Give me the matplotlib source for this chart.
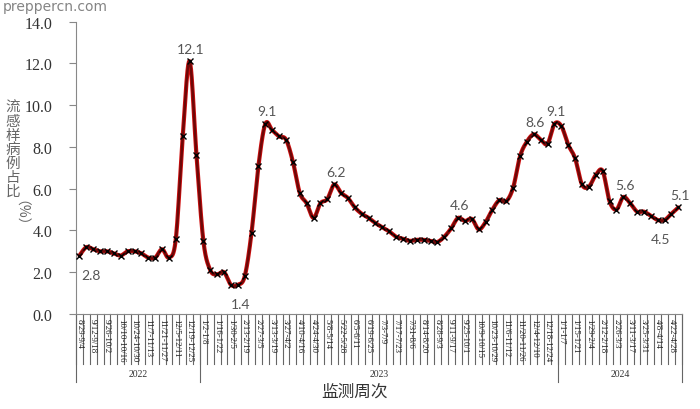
import numpy as np
import matplotlib
matplotlib.use("Agg")
import matplotlib.pyplot as plt
import matplotlib.transforms as mtransforms

# ---- data ----
values_2022 = [2.8, 3.2, 3.1, 3.0, 3.0, 2.9, 2.8, 3.0, 3.0, 2.9, 2.7, 2.7, 3.1, 2.7, 3.6, 8.5, 12.1, 7.6]
values_2023 = [3.5, 2.1, 1.9, 2.0, 1.4, 1.4, 1.8, 3.9, 7.1, 9.1, 8.8, 8.5, 8.35, 7.3, 5.8, 5.3, 4.6, 5.3,
               5.5, 6.2, 5.8, 5.55, 5.1, 4.8, 4.6, 4.35, 4.15, 3.95, 3.7, 3.6, 3.5, 3.55, 3.55, 3.5, 3.45,
               3.7, 4.1, 4.6, 4.45, 4.55, 4.05, 4.4, 5.0, 5.45, 5.4, 6.05, 7.55, 8.25, 8.6, 8.35, 8.15, 9.1]
values_2024 = [9.0, 8.1, 7.45, 6.2, 6.1, 6.65, 6.85, 5.4, 5.0, 5.6, 5.3, 4.9, 4.9, 4.7, 4.5, 4.5, 4.8, 5.1]
years = ["2022", "2023", "2024"]
week_labels = ["8/29-9/4", "9/12-9/18", "9/26-10/2", "10/10-10/16", "10/24-10/30", "11/7-11/13",
               "11/21-11/27", "12/5-12/11", "12/19-12/25", "1/2-1/8", "1/16-1/22", "1/30-2/5",
               "2/13-2/19", "2/27-3/5", "3/13-3/19", "3/27-4/2", "4/10-4/16", "4/24-4/30",
               "5/8-5/14", "5/22-5/28", "6/5-6/11", "6/19-6/25", "7/3-7/9", "7/17-7/23",
               "7/31-8/6", "8/14-8/20", "8/28-9/3", "9/11-9/17", "9/25-10/1", "10/9-10/15",
               "10/23-10/29", "11/6-11/12", "11/20-11/26", "12/4-12/10", "12/18-12/24",
               "1/1-1/7", "1/15-1/21", "1/29-2/4", "2/12-2/18", "2/26-3/3", "3/11-3/17",
               "3/25-3/31", "4/8-4/14", "4/22-4/28"]
labelled_points = [0, 16, 23, 27, 37, 55, 66, 69, 79, 84, 87]
label_below = [0, 23, 84]
yticks = [0, 2, 4, 6, 8, 10, 12, 14]

values = np.array(values_2022 + values_2023 + values_2024)
n = len(values)
x = np.arange(n)
group_sizes = [len(values_2022), len(values_2023), len(values_2024)]

# smooth curve (Excel-like Bezier smoothing) through the data points
def smooth(xs, ys, steps=20):
    px = np.concatenate([[xs[0]], xs, [xs[-1]]])
    py = np.concatenate([[ys[0]], ys, [ys[-1]]])
    out_x, out_y = [], []
    t = np.linspace(0, 1, steps, endpoint=False)
    for i in range(1, len(px) - 2):
        p0 = np.array([px[i], py[i]])
        p3 = np.array([px[i + 1], py[i + 1]])
        c1 = p0 + (np.array([px[i + 1], py[i + 1]]) - np.array([px[i - 1], py[i - 1]])) / 6
        c2 = p3 - (np.array([px[i + 2], py[i + 2]]) - np.array([px[i], py[i]])) / 6
        b = ((1 - t) ** 3)[:, None] * p0 + (3 * (1 - t) ** 2 * t)[:, None] * c1 + \
            (3 * (1 - t) * t ** 2)[:, None] * c2 + (t ** 3)[:, None] * p3
        out_x.extend(b[:, 0]); out_y.extend(b[:, 1])
    out_x.append(xs[-1]); out_y.append(ys[-1])
    return np.array(out_x), np.array(out_y)

sx, sy = smooth(x.astype(float), values)

fig = plt.figure(figsize=(7, 4.1), dpi=100)
ax = fig.add_axes([0.1086, 0.2317, 0.974 - 0.1086, 0.945 - 0.2317])

ax.plot(sx, sy, color="#D01010", lw=3.0, solid_capstyle="round", zorder=2)
ax.plot(sx, sy, color="#6E0808", lw=1.8, solid_capstyle="round", zorder=3)
ax.plot(x, values, ls="none", marker="x", color="black", ms=4, mew=1.0, zorder=4)

ax.set_xlim(-0.5, n - 0.5)
ax.set_ylim(0, 14)
ax.set_yticks(yticks)
ax.set_yticklabels([f"{v:.1f}" for v in yticks], family="Liberation Serif", fontsize=11.5, color="#333333")
ax.tick_params(axis="y", direction="out", length=5, color="#888888", pad=12)

for s in ["top", "right"]:
    ax.spines[s].set_visible(False)
ax.spines["left"].set_color("#888888")
ax.spines["bottom"].set_color("#888888")

ax.set_xticks(range(0, n, 2)[:len(week_labels)])
ax.set_xticklabels(week_labels, rotation=-90, fontsize=6.3, family="Liberation Serif", color="#222222")
ax.tick_params(axis="x", length=0, pad=3)
for lab in ax.get_xticklabels():
    lab.set_verticalalignment("top")

trans = mtransforms.blended_transform_factory(ax.transData, ax.transAxes)
bounds = np.cumsum([0] + group_sizes) - 0.5
for b in np.arange(-0.5, n, 1.0):
    ax.plot([b, b], [0, -0.17], transform=trans, color="#666666", lw=0.8, clip_on=False, zorder=1)
for b in bounds:
    ax.plot([b, b], [0, -0.232], transform=trans, color="#666666", lw=0.8, clip_on=False, zorder=1)
for i, yr in enumerate(years):
    cx = (bounds[i] + bounds[i + 1]) / 2
    ax.text(cx, -0.205, yr, transform=trans, ha="center", va="center", fontsize=7,
            family="Liberation Serif", color="#333333")

for i in labelled_points:
    if i == 0:
        off = (8, -14)
    elif i in label_below:
        off = (2, -14)
    else:
        off = (1, 9)
    ax.annotate(f"{values[i]:.1f}", (x[i], values[i]), xytext=off, textcoords="offset points",
                ha="center", va="center", fontsize=10, family="Lato", color="#555555", zorder=5)

fig.text(0.507, 0.044, "监测周次", ha="center", va="center", fontsize=12,
         family=["Noto Sans CJK SC", "DejaVu Sans"], color="#333333")
fig.text(0.018, 0.635, "\n".join("流感样病例占比"), ha="center", va="center", fontsize=10.5,
         linespacing=1.0, family=["Noto Sans CJK SC", "DejaVu Sans"], color="#666666")
fig.text(0.018, 0.462, "（%）", ha="center", va="center", rotation=-90, fontsize=10,
         family=["Noto Sans CJK SC", "DejaVu Sans"], color="#666666")
fig.text(0.004, 0.999, "preppercn.com", ha="left", va="top", fontsize=10,
         family="DejaVu Sans", color="#777777", alpha=0.9, zorder=10)

fig.savefig("out.png", dpi=100)
